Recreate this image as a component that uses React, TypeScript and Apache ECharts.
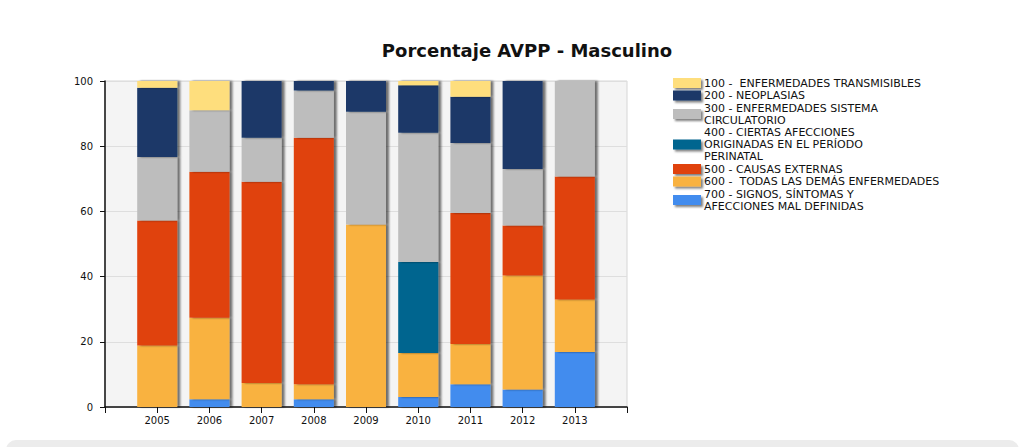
import React, { useEffect, useRef } from "react";
import * as echarts from "echarts";

const years = ["2004", "2005", "2006", "2007", "2008", "2009", "2010", "2011", "2012", "2013", "2014"];
const yTicks = [0, 20, 40, 60, 80, 100];

const seriesNames = [
  "100 -  ENFERMEDADES TRANSMISIBLES",
  "200 - NEOPLASIAS",
  "300 - ENFERMEDADES SISTEMA\nCIRCULATORIO",
  "400 - CIERTAS AFECCIONES\nORIGINADAS EN EL PERÍODO\nPERINATAL",
  "500 - CAUSAS EXTERNAS",
  "600 -  TODAS LAS DEMÁS ENFERMEDADES",
  "700 - SIGNOS, SÍNTOMAS Y\nAFECCIONES MAL DEFINIDAS",
];
const colors = ["#FEDE7D", "#1B3968", "#BDBDBD", "#05658F", "#E0420A", "#F9B241", "#428CEE"];

// values for 2005..2013
const v700 = [0, 2.4, 0, 2.4, 0, 3.1, 7.0, 5.4, 16.9];
const v600 = [18.9, 25.0, 7.4, 4.6, 56.0, 13.5, 12.3, 34.9, 16.1];
const v500 = [38.3, 44.8, 61.7, 75.6, 0, 0, 40.2, 15.4, 37.7];
const v400 = [0, 0, 0, 0, 0, 27.9, 0, 0, 0];
const v300 = [19.5, 18.8, 13.5, 14.5, 34.6, 39.6, 21.5, 17.3, 29.3];
const v200 = [21.2, 0, 17.4, 2.9, 9.4, 14.6, 14.2, 27.0, 0];
const v100 = [2.1, 9.0, 0, 0, 0, 1.3, 4.8, 0, 0];

const stackOrder = [
  { idx: 6, data: v700 },
  { idx: 5, data: v600 },
  { idx: 4, data: v500 },
  { idx: 3, data: v400 },
  { idx: 2, data: v300 },
  { idx: 1, data: v200 },
  { idx: 0, data: v100 },
];

export default function App() {
  const ref = useRef<HTMLDivElement>(null);
  useEffect(() => {
    if (!ref.current) return;
    const chart = echarts.init(ref.current, null, { renderer: "svg" });
    const font = "'DejaVu Sans', sans-serif";
    const series = stackOrder.map((s) => ({
      name: seriesNames[s.idx],
      type: "bar",
      stack: "total",
      barWidth: 40,
      data: [null, ...s.data.map((v) => (v === 0 ? null : v)), null],
      itemStyle: {
        color: colors[s.idx],
        shadowColor: "rgba(0,0,0,0.55)",
        shadowOffsetX: 3,
        shadowOffsetY: 0,
        shadowBlur: 2,
      },
    }));
    chart.setOption({
      animation: false,
      backgroundColor: "#ffffff",
      title: {
        text: "Porcentaje AVPP - Masculino",
        left: 522,
        textAlign: "center",
        top: 36,
        textStyle: { fontFamily: font, fontSize: 18, fontWeight: "bold", color: "#111" },
      },
      legend: {
        orient: "vertical",
        left: 673,
        top: 77,
        padding: 0,
        icon: "rect",
        itemWidth: 28,
        itemHeight: 10,
        itemGap: 0.5,
        data: seriesNames.map((n, i) => ({
          name: n,
          itemStyle: {
            color: colors[i],
            shadowColor: "rgba(0,0,0,0.5)",
            shadowOffsetX: 2,
            shadowOffsetY: 2,
            shadowBlur: 2,
          },
        })),
        selectedMode: false,
        textStyle: { fontFamily: font, fontSize: 11, color: "#111", lineHeight: 12, padding: [0, 0, 0, -2] },
      },
      grid: {
        left: 105,
        right: 398,
        top: 81,
        bottom: 40,
        show: true,
        backgroundColor: "#f4f4f4",
        borderColor: "#d6d6d6",
        borderWidth: 1,
      },
      xAxis: {
        type: "category",
        data: years,
        boundaryGap: false,
        axisLine: { lineStyle: { color: "#111", width: 1.5 } },
        axisTick: { show: true, length: 6, lineStyle: { color: "#111" }, alignWithLabel: true },
        axisLabel: {
          fontFamily: font,
          fontSize: 10,
          color: "#111",
          margin: 8,
          formatter: (v: string, i: number) => (i === 0 || i === years.length - 1 ? "" : v),
        },
        splitLine: { show: false },
      },
      yAxis: {
        type: "value",
        min: 0,
        max: 100,
        interval: 20,
        axisLine: { show: true, lineStyle: { color: "#111", width: 1.5 } },
        axisTick: { show: true, length: 5, lineStyle: { color: "#111" } },
        axisLabel: {
          fontFamily: font,
          fontSize: 10,
          color: "#111",
          margin: 12,
          formatter: (v: number) => (yTicks.includes(v) ? String(v) : ""),
        },
        splitLine: { show: true, lineStyle: { color: "#dedede", width: 1 } },
      },
      graphic: [
        {
          type: "rect",
          left: 6,
          top: 440,
          shape: { width: 1013, height: 20, r: 10 },
          style: { fill: "#ececec" },
          silent: true,
        },
      ],
      series,
    });
    return () => chart.dispose();
  }, []);
  return (
    <div
      ref={ref}
      style={{ position: "fixed", left: 0, top: 0, width: 1025, height: 447 }}
    />
  );
}
